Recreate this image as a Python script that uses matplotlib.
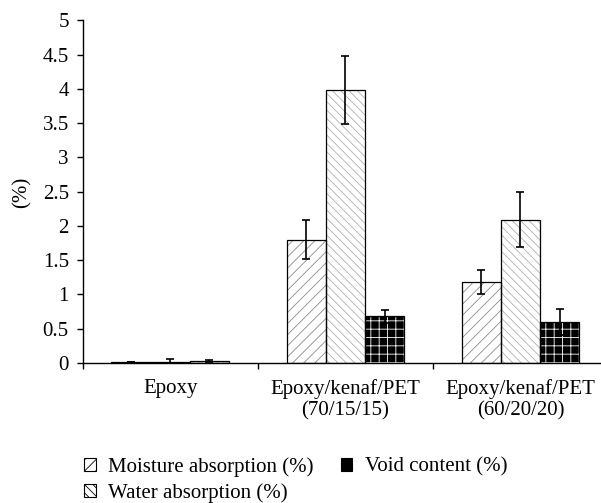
import matplotlib
matplotlib.use("Agg")
import matplotlib.pyplot as plt
from matplotlib.patches import Patch
import numpy as np

categories = ["Epoxy", "Epoxy/kenaf/PET\n(70/15/15)", "Epoxy/kenaf/PET\n(60/20/20)"]
series_names = ["Moisture absorption (%)", "Water absorption (%)", "Void content (%)"]
moisture = [0.02, 1.80, 1.18]
moisture_err = [0.0, 0.28, 0.17]
water = [0.02, 3.98, 2.09]
water_err = [0.035, 0.50, 0.40]
void = [0.03, 0.68, 0.60]
void_err = [0.01, 0.10, 0.19]
yticks = [0, 0.5, 1, 1.5, 2, 2.5, 3, 3.5, 4, 4.5, 5]
ytick_labels = ["0", "0.5", "1", "1.5", "2", "2.5", "3", "3.5", "4", "4.5", "5"]

plt.rcParams['font.family'] = ['Liberation Serif', 'DejaVu Serif']
plt.rcParams['hatch.linewidth'] = 0.6

FS = 15
fig = plt.figure(figsize=(6.01, 5.03), dpi=100)
ax = fig.add_axes([82.7/601, 140/503, (608-82.7)/601, (363-20.3)/503])

x = np.arange(len(categories))
w = 0.224
styles = [
    dict(face="white", hatch="///", hcolor="#8a8a8a"),
    dict(face="white", hatch="\\\\\\\\", hcolor="#b0b0b0"),
    dict(face="black", hatch="++", hcolor="white"),
]
data = [(moisture, moisture_err), (water, water_err), (void, void_err)]
for i, ((vals, errs), st) in enumerate(zip(data, styles)):
    pos = x + (i - 1) * w
    ax.bar(pos, vals, w, color=st["face"], edgecolor=st["hcolor"], hatch=st["hatch"], linewidth=0, zorder=2)
    ax.bar(pos, vals, w, fill=False, edgecolor="black", linewidth=0.9, zorder=3)
    ax.errorbar(pos, vals, yerr=errs, fmt="none", ecolor="black", elinewidth=1.2, capsize=3, capthick=1.2, zorder=4)

ax.set_xlim(-0.5, 2.5)
ax.set_ylim(0, 5)
ax.set_yticks(yticks)
ax.set_yticklabels(ytick_labels, fontsize=FS)
ax.tick_params(axis='y', direction='out', length=4, width=1, pad=6)
ax.set_xticks(x)
ax.set_xticklabels(categories, fontsize=FS)
ax.set_xticks([-0.5, 0.5, 1.5, 2.5], minor=True)
ax.tick_params(axis='x', which='major', length=0, pad=11.5)
ax.tick_params(axis='x', which='minor', direction='out', length=4, width=1)
for s in ["top", "right"]:
    ax.spines[s].set_visible(False)
for s in ["left", "bottom"]:
    ax.spines[s].set_linewidth(1.0)

fig.text(22/601, 1 - 192/503, "(%)", rotation=90, ha="center", va="center", fontsize=FS)

handles = [
    Patch(facecolor="white", edgecolor="black", hatch="///", linewidth=0.8),
    Patch(facecolor="white", edgecolor="black", hatch="\\\\\\\\", linewidth=0.8),
    Patch(facecolor="black", edgecolor="black", hatch="++", linewidth=0.8),
]
fig.legend(handles, series_names, loc="upper left", bbox_to_anchor=(84/601, 1 - 457/503),
           ncol=2, frameon=False, fontsize=FS, handlelength=0.56, handleheight=0.56,
           handletextpad=0.6, columnspacing=1.3, labelspacing=0.3, borderpad=0, borderaxespad=0)

fig.savefig("out.png", dpi=100)
